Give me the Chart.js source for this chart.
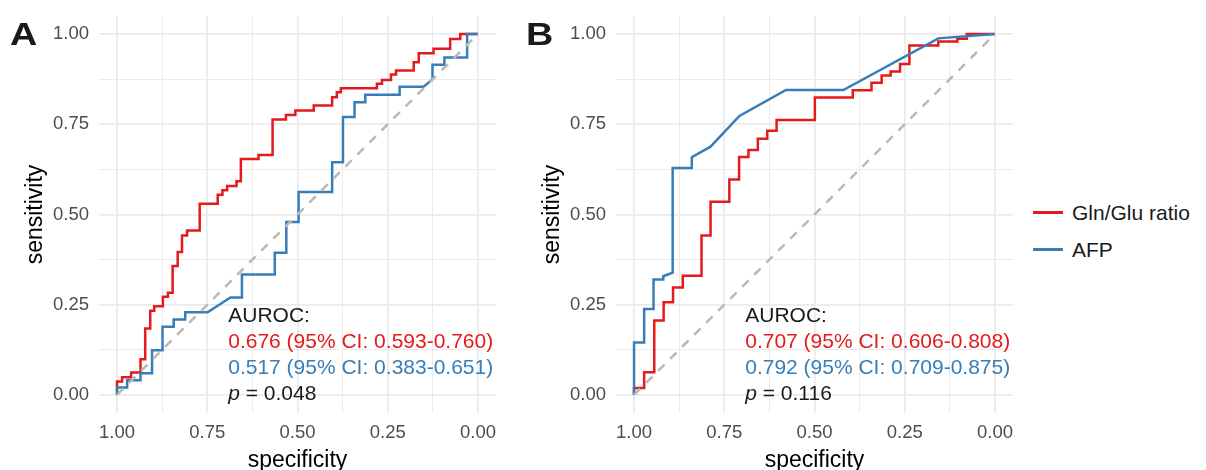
<!DOCTYPE html>
<html lang="en">
<head>
<meta charset="UTF-8">
<title>ROC curves: Gln/Glu ratio vs AFP</title>
<script src="https://cdn.jsdelivr.net/npm/chart.js"></script>
<style>
  body {
    margin: 0;
    background: #fff;
    font-family: "Liberation Sans", Arial, sans-serif;
  }
  .wrap {
    position: relative;
    width: 1206px;
    height: 470px;
  }
  canvas {
    position: absolute;
    top: 0;
  }
  #chartA { left: 0; }
  #chartB { left: 517px; }
  .tag {
    position: absolute;
    top: 17px;
    font-weight: bold;
    font-size: 31px;
    color: #1a1a1a;
    transform: scaleX(1.22);
    transform-origin: left top;
  }
  .legend {
    position: absolute;
    left: 1033px;
    top: 194px;
    font-size: 21px;
    color: #1a1a1a;
  }
  .legend div {
    display: flex;
    align-items: center;
    height: 37px;
  }
  .legend .key {
    width: 30px;
    height: 2.5px;
    margin-right: 9px;
  }
</style>
</head>
<body>
<div class="wrap">
  <canvas id="chartA" width="510" height="470"></canvas>
  <canvas id="chartB" width="510" height="470"></canvas>
  <div class="tag" style="left:10px">A</div>
  <div class="tag" style="left:526px">B</div>
  <div class="legend">
    <div><span class="key" style="background:#E41A1C"></span>Gln/Glu ratio</div>
    <div><span class="key" style="background:#377EB8"></span>AFP</div>
  </div>
</div>

<script>
  // tick values on both axes
  const majorTicks = [0, 0.25, 0.5, 0.75, 1];
  const minorTicks = [0.125, 0.375, 0.625, 0.875];

  // chance line
  const diagSpec = [1, 0];
  const diagSens = [0, 1];

  // panel A - Gln/Glu ratio
  const aRatioSpec = [1, 1, 0.986, 0.986, 0.961, 0.961, 0.935, 0.935, 0.922, 0.922, 0.908, 0.908, 0.897, 0.897,
    0.873, 0.873, 0.859, 0.859, 0.846, 0.846, 0.832, 0.832, 0.820, 0.820, 0.806, 0.806, 0.771, 0.771,
    0.721, 0.721, 0.708, 0.708, 0.695, 0.695, 0.669, 0.669, 0.657, 0.657, 0.608, 0.608, 0.569, 0.569,
    0.532, 0.532, 0.506, 0.506, 0.455, 0.455, 0.404, 0.404, 0.391, 0.391, 0.380, 0.380, 0.280, 0.280,
    0.266, 0.266, 0.241, 0.241, 0.227, 0.227, 0.178, 0.178, 0.164, 0.164, 0.123, 0.123, 0.077, 0.077,
    0.049, 0.049, 0];
  const aRatioSens = [0, 0.037, 0.037, 0.049, 0.049, 0.062, 0.062, 0.099, 0.099, 0.184, 0.184, 0.233, 0.233, 0.246,
    0.246, 0.272, 0.272, 0.283, 0.283, 0.357, 0.357, 0.396, 0.396, 0.442, 0.442, 0.456, 0.456, 0.530,
    0.530, 0.555, 0.555, 0.567, 0.567, 0.579, 0.579, 0.592, 0.592, 0.654, 0.654, 0.665, 0.665, 0.763,
    0.763, 0.776, 0.776, 0.788, 0.788, 0.802, 0.802, 0.825, 0.825, 0.839, 0.839, 0.850, 0.850, 0.862,
    0.862, 0.873, 0.873, 0.888, 0.888, 0.899, 0.899, 0.922, 0.922, 0.947, 0.947, 0.959, 0.959, 0.986,
    0.986, 1, 1];

  // panel A - AFP
  const aAfpSpec = [1, 1, 0.972, 0.972, 0.935, 0.935, 0.903, 0.903, 0.874, 0.874, 0.843, 0.843, 0.811, 0.811,
    0.749, 0.686, 0.654, 0.654, 0.563, 0.563, 0.531, 0.531, 0.497, 0.497, 0.404, 0.404, 0.374, 0.374,
    0.342, 0.342, 0.312, 0.312, 0.217, 0.217, 0.151, 0.126, 0.126, 0.093, 0.093, 0.030, 0.030, 0];
  const aAfpSens = [0, 0.021, 0.021, 0.041, 0.041, 0.060, 0.060, 0.124, 0.124, 0.189, 0.189, 0.209, 0.209, 0.229,
    0.229, 0.270, 0.270, 0.334, 0.334, 0.394, 0.394, 0.479, 0.479, 0.562, 0.562, 0.645, 0.645, 0.770,
    0.770, 0.811, 0.811, 0.832, 0.832, 0.854, 0.854, 0.874, 0.915, 0.915, 0.935, 0.935, 1, 1];

  // panel B - Gln/Glu ratio
  const bRatioSpec = [1, 1, 0.972, 0.972, 0.944, 0.944, 0.918, 0.918, 0.892, 0.892, 0.865, 0.865, 0.813, 0.813,
    0.788, 0.788, 0.736, 0.736, 0.709, 0.709, 0.683, 0.683, 0.657, 0.657, 0.631, 0.631, 0.605, 0.605,
    0.499, 0.499, 0.394, 0.394, 0.342, 0.342, 0.314, 0.314, 0.289, 0.289, 0.263, 0.263, 0.237, 0.237,
    0.157, 0.157, 0.104, 0.104, 0.078, 0.078, 0];
  const bRatioSens = [0, 0.019, 0.019, 0.063, 0.063, 0.206, 0.206, 0.257, 0.257, 0.298, 0.298, 0.330, 0.330, 0.442,
    0.442, 0.535, 0.535, 0.597, 0.597, 0.659, 0.659, 0.679, 0.679, 0.710, 0.710, 0.732, 0.732, 0.762,
    0.762, 0.824, 0.824, 0.844, 0.844, 0.865, 0.865, 0.885, 0.885, 0.896, 0.896, 0.917, 0.917, 0.968,
    0.968, 0.979, 0.979, 0.987, 0.987, 1, 1];

  // panel B - AFP
  const bAfpSpec = [1, 1, 0.972, 0.972, 0.946, 0.946, 0.919, 0.919, 0.893, 0.893, 0.840, 0.840, 0.788, 0.708,
    0.579, 0.420, 0.157, 0];
  const bAfpSens = [0, 0.145, 0.145, 0.238, 0.238, 0.320, 0.320, 0.329, 0.339, 0.629, 0.629, 0.659, 0.688, 0.773,
    0.845, 0.845, 0.988, 1];

  const notesA = [
    [{ text: 'AUROC:', color: '#1a1a1a' }],
    [{ text: '0.676 (95% CI: 0.593-0.760)', color: '#E41A1C' }],
    [{ text: '0.517 (95% CI: 0.383-0.651)', color: '#377EB8' }],
    [{ text: 'p', color: '#1a1a1a', italic: true }, { text: ' = 0.048', color: '#1a1a1a' }]
  ];
  const notesB = [
    [{ text: 'AUROC:', color: '#1a1a1a' }],
    [{ text: '0.707 (95% CI: 0.606-0.808)', color: '#E41A1C' }],
    [{ text: '0.792 (95% CI: 0.709-0.875)', color: '#377EB8' }],
    [{ text: 'p', color: '#1a1a1a', italic: true }, { text: ' = 0.116', color: '#1a1a1a' }]
  ];

  const FONT = '"Liberation Sans", Arial, sans-serif';

  function toPoints(spec, sens) {
    return spec.map((s, i) => ({ x: s, y: sens[i] }));
  }

  // writes the AUROC block, anchored at a data position
  const notePlugin = {
    id: 'note',
    afterDatasetsDraw(chart, args, opts) {
      const { ctx, scales } = chart;
      const left = scales.x.getPixelForValue(opts.x);
      const base = scales.y.getPixelForValue(opts.y);
      ctx.save();
      ctx.textBaseline = 'middle';
      ctx.textAlign = 'left';
      opts.lines.forEach((parts, i) => {
        const py = base - (opts.lines.length - 1 - i) * opts.gap;
        let px = left;
        parts.forEach(p => {
          ctx.font = (p.italic ? 'italic ' : '') + '21px ' + FONT;
          ctx.fillStyle = p.color;
          ctx.fillText(p.text, px, py);
          px += ctx.measureText(p.text).width;
        });
      });
      ctx.restore();
    }
  };

  function axis(title, isX) {
    const allTicks = majorTicks.concat(minorTicks).sort((a, b) => a - b);
    return {
      type: 'linear',
      min: -0.05,
      max: 1.05,
      reverse: isX,
      afterBuildTicks: scale => {
        scale.ticks = allTicks.map(v => ({ value: v }));
      },
      afterFit: scale => {
        // fixed panel size, like the ggplot original
        if (isX) scale.height = 57;
        else scale.width = 99;
        scale.paddingTop = 0;
        scale.paddingBottom = 0;
        scale.paddingLeft = 0;
        scale.paddingRight = 0;
      },
      border: { display: false },
      grid: {
        color: '#EBEBEB',
        drawTicks: false,
        lineWidth: c => (c.tick && majorTicks.includes(c.tick.value)) ? 1.8 : 1
      },
      ticks: {
        autoSkip: false,
        maxRotation: 0,
        padding: isX ? 9 : 10,
        color: '#4D4D4D',
        font: { family: FONT, size: 18.5 },
        callback: v => majorTicks.includes(v) ? v.toFixed(2) : ''
      },
      title: {
        display: true,
        text: title,
        color: '#000',
        font: { family: FONT, size: 23, lineHeight: isX ? 0.85 : 1.2 },
        padding: isX ? { top: 0, bottom: 0 } : { top: 22, bottom: 0 }
      }
    };
  }

  function makeChart(id, ratioSpec, ratioSens, afpSpec, afpSens, notes) {
    return new Chart(document.getElementById(id), {
      type: 'scatter',
      data: {
        datasets: [
          {
            label: 'chance',
            data: toPoints(diagSpec, diagSens),
            showLine: true,
            borderColor: '#B8B8B8',
            borderWidth: 2.5,
            borderDash: [9, 8],
            pointRadius: 0,
            order: 0
          },
          {
            label: 'AFP',
            data: toPoints(afpSpec, afpSens),
            showLine: true,
            borderColor: '#377EB8',
            borderWidth: 2.5,
            pointRadius: 0,
            order: 1
          },
          {
            label: 'Gln/Glu ratio',
            data: toPoints(ratioSpec, ratioSens),
            showLine: true,
            borderColor: '#E41A1C',
            borderWidth: 2.5,
            pointRadius: 0,
            order: 2
          }
        ]
      },
      options: {
        responsive: false,
        animation: false,
        layout: { padding: { top: 16, right: 14, left: 0, bottom: 0 } },
        scales: {
          x: axis('specificity', true),
          y: axis('sensitivity', false)
        },
        plugins: {
          legend: { display: false },
          tooltip: { enabled: false },
          note: { x: 0.692, y: 0.003, gap: 26, lines: notes }
        }
      },
      plugins: [notePlugin]
    });
  }

  makeChart('chartA', aRatioSpec, aRatioSens, aAfpSpec, aAfpSens, notesA);
  makeChart('chartB', bRatioSpec, bRatioSens, bAfpSpec, bAfpSens, notesB);
</script>
</body>
</html>
